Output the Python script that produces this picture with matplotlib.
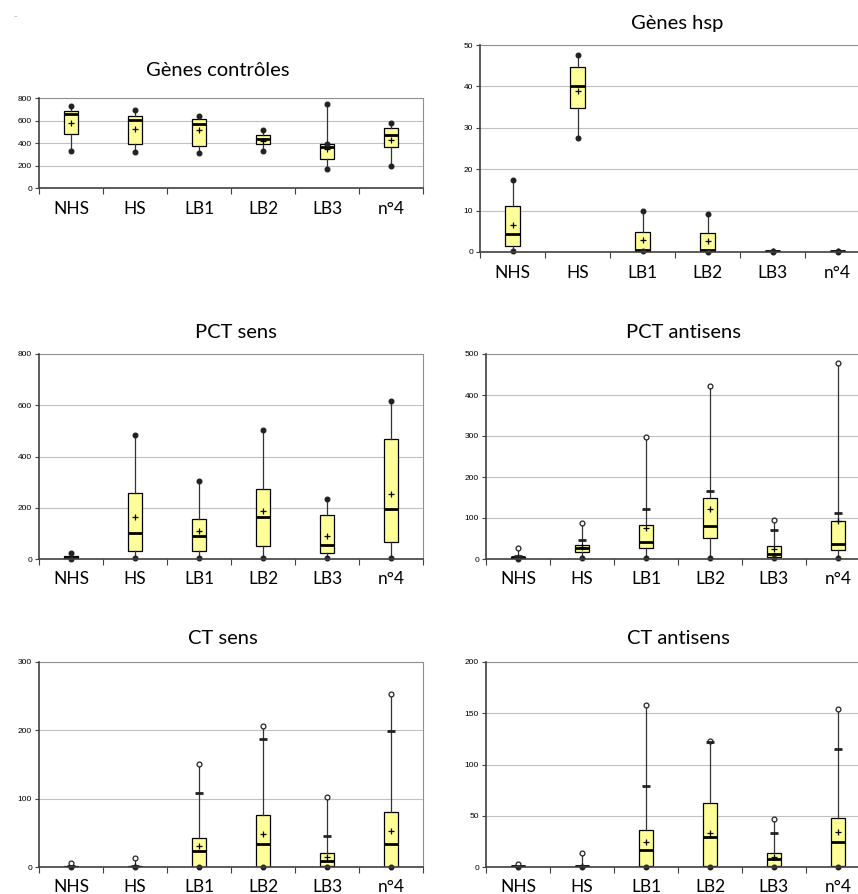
import matplotlib
matplotlib.use("Agg")
import matplotlib.pyplot as plt

W, H = 858, 894

cats = ["NHS", "HS", "LB1", "LB2", "LB3", "n°4"]

# rows per category: min, q1, median, q3, max, mean
ctrl_box = [[332, 477, 658, 681, 732, 575],
            [323, 394, 601, 637, 693, 527],
            [311, 370, 572, 616, 637, 516],
            [332, 391, 436, 474, 519, 421],
            [169, 258, 361, 391, 750, 345],
            [199, 367, 474, 533, 581, 424]]
ctrl_cap = [None, None, None, None, 391, None]

hsp_box = [[0.3, 1.4, 4.35, 11.0, 17.3, 6.6],
           [27.5, 34.8, 40.1, 44.8, 47.7, 39.0],
           [0.2, 0.2, 0.4, 4.8, 9.8, 2.8],
           [0.1, 0.2, 0.4, 4.6, 9.2, 2.7],
           [0.05, 0.1, 0.15, 0.2, 0.25, 0.15],
           [0.05, 0.1, 0.15, 0.2, 0.25, 0.15]]

pct_s_box = [[0, 2, 5, 10, 23, 7],
             [4, 30, 103, 257, 484, 165],
             [4, 30, 90, 158, 304, 109],
             [4, 49, 165, 273, 505, 187],
             [4, 23, 55, 171, 235, 90],
             [4, 66, 194, 469, 618, 253]]

pct_a_box = [[1, 2, 4, 6, 28, 4],
             [2, 17, 28, 34, 88, 30],
             [2, 28, 42, 82, 298, 75],
             [2, 51, 81, 148, 423, 123],
             [2, 5, 12, 31, 95, 25],
             [2, 22, 37, 93, 477, 92]]
pct_a_cap = [7, 47, 123, 167, 71, 111]

ct_s_box = [[0, 0.3, 0.6, 1.0, 5.4, 0.8],
            [0, 0.3, 0.6, 1.0, 13.7, 1.0],
            [0, 0.5, 24, 43, 151, 31],
            [0, 0.5, 34, 76, 207, 49],
            [0, 1, 9, 20, 102, 14],
            [0, 0.5, 34, 80, 253, 52]]
ct_s_cap = [1, 2, 109, 188, 45, 199]

ct_a_box = [[0, 0.3, 0.6, 1.0, 3.2, 0.8],
            [0, 0.3, 0.6, 1.0, 14, 1.0],
            [0, 1, 17, 36, 158, 24],
            [0, 1, 29, 62, 123, 33],
            [0, 1, 8, 14, 47, 9.4],
            [0, 1, 24, 48, 154, 34]]
ct_a_cap = [1, 1, 79, 122, 33, 115]

fig = plt.figure(figsize=(W / 100, H / 100), dpi=100, facecolor="white")


def panel(rect, title, tpos, box, ymax, ystep, cap=None, open_max=False, cap_dot=False):
    l, t, r, b = rect
    ax = fig.add_axes([l / W, 1 - b / H, (r - l) / W, (b - t) / H])
    pos = list(range(1, len(cats) + 1))
    stats = [dict(whislo=row[0], q1=row[1], med=row[2], q3=row[3], whishi=row[4],
                  mean=row[5], fliers=[]) for row in box]
    ax.bxp(stats, positions=pos, widths=0.22, patch_artist=True, showmeans=True,
           showcaps=False, manage_ticks=False,
           boxprops=dict(facecolor="#ffff99", edgecolor="black", linewidth=0.9),
           medianprops=dict(color="black", linewidth=2),
           whiskerprops=dict(color="#333333", linewidth=0.9),
           meanprops=dict(marker="+", markeredgecolor="black", markersize=5,
                          markeredgewidth=0.9),
           zorder=3)
    ax.plot(pos, [row[0] for row in box], "o", ms=3.3, color="#222222", zorder=4, clip_on=False)
    if open_max:
        ax.plot(pos, [row[4] for row in box], "o", ms=3.5, mfc="white", mec="#222222",
                mew=0.9, zorder=4)
    else:
        ax.plot(pos, [row[4] for row in box], "o", ms=3.3, color="#222222", zorder=4)
    if cap is not None:
        cx = [p for p, c in zip(pos, cap) if c is not None]
        cy = [c for c in cap if c is not None]
        if cap_dot:
            ax.plot(cx, cy, "o", ms=3.3, color="#222222", zorder=4)
        else:
            ax.plot(cx, cy, "_", ms=6, mew=2, color="#222222", zorder=4)

    ax.set_xlim(0.5, len(cats) + 0.5)
    ax.set_ylim(0, ymax)
    ax.set_yticks(range(0, ymax + 1, ystep))
    ax.set_xticks([i + 0.5 for i in range(len(cats) + 1)])
    ax.set_xticklabels([])
    ax.set_xticks(pos, minor=True)
    ax.set_xticklabels(cats, minor=True, fontfamily="Lato", fontsize=12.5)
    ax.tick_params(axis="x", which="major", length=4, direction="out", color="#404040")
    ax.tick_params(axis="x", which="minor", length=0, pad=9)
    ax.tick_params(axis="y", length=3, color="#404040", labelsize=6, pad=2)
    for lab in ax.get_yticklabels():
        lab.set_fontfamily("Liberation Sans")
    ax.grid(axis="y", color="#c0c0c0", linewidth=0.8)
    ax.set_axisbelow(True)
    for s in ("left", "bottom"):
        ax.spines[s].set_color("#404040")
        ax.spines[s].set_linewidth(1.2)
        ax.spines[s].set_zorder(5)
    for s in ("top", "right"):
        ax.spines[s].set_color("#909090")
        ax.spines[s].set_linewidth(0.8)
    fig.text(tpos[0] / W, 1 - tpos[1] / H, title, ha="center", va="center",
             fontfamily="Lato", fontsize=14.5)
    return ax


panel((39, 98, 423, 188), "Gènes contrôles", (218, 70), ctrl_box, 800, 200,
      cap=ctrl_cap, cap_dot=True)
panel((480, 45, 870, 252), "Gènes hsp", (677, 23), hsp_box, 50, 10)
panel((39, 354, 423, 559), "PCT sens", (236, 332), pct_s_box, 800, 200)
panel((486, 354, 870, 559), "PCT antisens", (684, 332), pct_a_box, 500, 100,
      cap=pct_a_cap, open_max=True)
panel((39, 662, 423, 867), "CT sens", (223, 639), ct_s_box, 300, 100,
      cap=ct_s_cap, open_max=True)
panel((486, 662, 870, 867), "CT antisens", (678, 638), ct_a_box, 200, 50,
      cap=ct_a_cap, open_max=True)

fig.text(15 / W, 1 - 16 / H, "–", fontsize=5, color="#909090", ha="center", va="center")

plt.savefig("out.png", dpi=100)
